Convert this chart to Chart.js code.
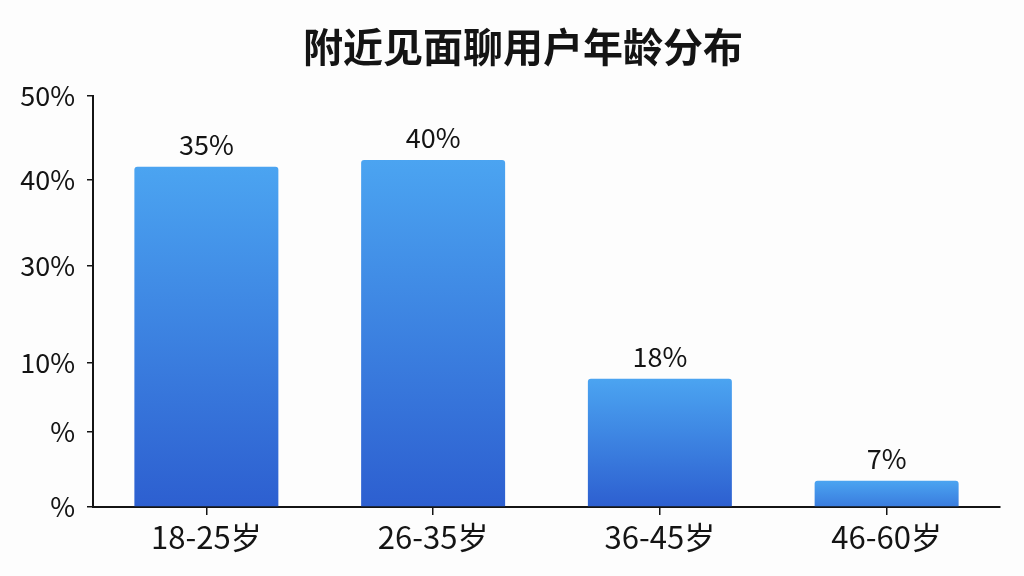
<!DOCTYPE html>
<html>
<head>
<meta charset="utf-8">
<script src="https://cdn.jsdelivr.net/npm/chart.js@4"></script>
<style>
  html, body { margin: 0; padding: 0; background: #fdfdfd; }
  #wrap { width: 1024px; height: 576px; }
</style>
</head>
<body>
<div id="wrap"><canvas id="ageChart"></canvas></div>
<script>
// Daten aus dem Bild
const chartTitle = '附近见面聊用户年龄分布';
const categories = ['18-25岁', '26-35岁', '36-45岁', '46-60岁'];
const barHeights = [41.4, 42.2, 15.6, 3.2];      // Balkenhoehe auf der Achse
const valueLabels = ['35%', '40%', '18%', '7%']; // Beschriftung ueber den Balken
const tickValues = [0, 9.2, 17.6, 29.4, 39.8, 50];
const tickLabels = ['%', '%', '10%', '30%', '40%', '50%'];

const fontFamily = '"Noto Sans CJK SC", "Noto Sans", sans-serif';
const inkColor = '#141414';

// Verlauf pro Balken von oben hell nach unten dunkel
function barGradient(context) {
  const chart = context.chart;
  if (!chart.chartArea || context.type !== 'data') return '#3f86e6';
  const y = chart.scales.y;
  const top = y.getPixelForValue(context.raw);
  const bottom = y.getPixelForValue(0);
  const len = Math.max(bottom - top, 45);
  const g = chart.ctx.createLinearGradient(0, top, 0, top + len);
  g.addColorStop(0, '#4ba4f1');
  g.addColorStop(1, '#2d5fd0');
  return g;
}

// Titel selbst zeichnen (etwas rechts der Mitte wie im Original)
const titlePlugin = {
  id: 'ownTitle',
  afterDraw(chart) {
    const ctx = chart.ctx;
    ctx.save();
    ctx.font = 'bold 40px ' + fontFamily;
    ctx.fillStyle = inkColor;
    ctx.textAlign = 'center';
    ctx.textBaseline = 'middle';
    ctx.fillText(chartTitle, 523, 47);
    ctx.restore();
  }
};

// Werte ueber den Balken
const valueLabelPlugin = {
  id: 'valueLabels',
  afterDatasetsDraw(chart) {
    const ctx = chart.ctx;
    const meta = chart.getDatasetMeta(0);
    ctx.save();
    ctx.font = '27px ' + fontFamily;
    ctx.fillStyle = inkColor;
    ctx.textAlign = 'center';
    ctx.textBaseline = 'alphabetic';
    meta.data.forEach((bar, i) => {
      ctx.fillText(valueLabels[i], bar.x, bar.y - 12);
    });
    ctx.restore();
  }
};

const ctx = document.getElementById('ageChart').getContext('2d');
const ageChart = new Chart(ctx, {
  type: 'bar',
  data: {
    labels: categories,
    datasets: [{
      data: barHeights,
      backgroundColor: barGradient,
      borderRadius: { topLeft: 3, topRight: 3 },
      borderSkipped: 'bottom',
      barPercentage: 0.635,
      categoryPercentage: 1
    }]
  },
  options: {
    responsive: true,
    maintainAspectRatio: false,
    animation: false,
    layout: {
      padding: { left: 0, right: 24, top: 96, bottom: 0 }
    },
    plugins: {
      legend: { display: false },
      tooltip: { enabled: false },
      title: { display: false }
    },
    scales: {
      x: {
        grid: {
          display: true,
          drawOnChartArea: false,
          offset: false,
          tickLength: 8,
          color: inkColor,
          lineWidth: 1.5
        },
        border: { display: true, color: inkColor, width: 2 },
        ticks: {
          color: inkColor,
          padding: 4,
          font: { family: fontFamily, size: 31 }
        },
        afterFit(scale) {
          scale.height = 69;
        }
      },
      y: {
        min: 0,
        max: 50,
        grid: {
          display: true,
          drawOnChartArea: false,
          tickLength: 6,
          color: inkColor,
          lineWidth: 1.5
        },
        border: { display: true, color: inkColor, width: 2 },
        afterBuildTicks(scale) {
          scale.ticks = tickValues.map(v => ({ value: v }));
        },
        ticks: {
          color: inkColor,
          padding: 12,
          font: { family: fontFamily, size: 27 },
          callback: (value, index) => tickLabels[index]
        },
        afterFit(scale) {
          scale.width = 93;
        }
      }
    }
  },
  plugins: [valueLabelPlugin, titlePlugin]
});
</script>
</body>
</html>
